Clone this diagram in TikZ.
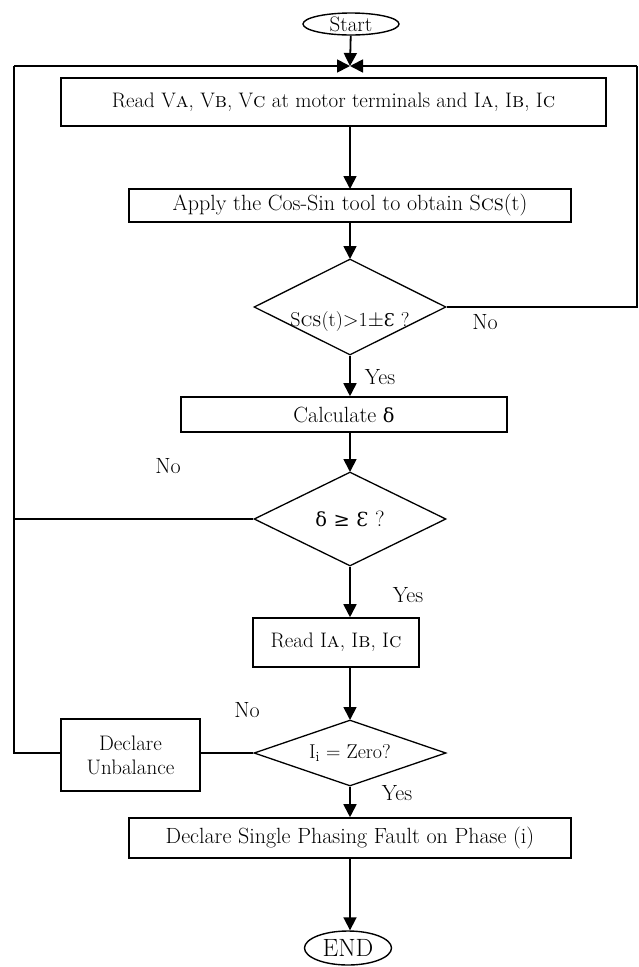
\documentclass[tikz,border=0pt]{standalone}
\usepackage{fontspec}
\usepackage{amsmath}
\usetikzlibrary{shapes.geometric,arrows.meta}
\newfontfamily\opene[Scale=0.88]{DejaVu Serif}
\newcommand{\OpE}{{\opene Ɛ}}
\newcommand{\dlt}{{\opene δ}}
\newcommand{\fs}[1]{\fontsize{#1}{#1}\selectfont}

\begin{document}
\begin{tikzpicture}[x=1pt,y=-1pt]
    \tikzset{%
      term/.style={ellipse, draw, line width=1.4pt, inner sep=0pt},
      box/.style={rectangle, draw, line width=1.6pt, inner sep=0pt,
        align=center},
      test/.style={diamond, draw, line width=1.3pt, inner sep=0pt, aspect=2},
      txt/.style={inner sep=0pt},
      flow/.style={line width=1.8pt, -{Triangle[length=13pt,width=13pt]}},
      back/.style={line width=1.6pt},
      every node/.style={font=\fs{22}},
    }
    \useasboundingbox (0,0) rectangle (638,967);

    % start and first reading
    \node[term, font=\fs{21}, minimum width=96pt, minimum height=22pt] (start) at (351,24) {Start};
    \coordinate (merge) at (350,66);
    \coordinate (TL) at (14,66);
    \coordinate (TR) at (637,66);
    \draw [flow] (start) -- (merge);
    \node[box, font=\fs{21}, minimum width=545pt, minimum height=48pt] (readv) at (333.5,102)
      {Read V\textsc{a}, V\textsc{b}, V\textsc{c} at motor terminals and I\textsc{a}, I\textsc{b}, I\textsc{c}};
    \draw [flow] (readv.south -| merge) -- (350,189);

    \node[box, minimum width=442pt, minimum height=33pt] (apply) at (350,205.5)
      {Apply the Cos-Sin tool to obtain S\textsc{cs}(t)};
    \draw [flow] (apply) -- (350,259);

    % first test
    \node[test, minimum width=192pt, minimum height=96pt] (testS) at (350,307) {};
    \node[txt, font=\fs{20}] (testSt) at (350,322) {S\textsc{cs}(t)$>$1$\pm$\OpE\ ?};
    \coordinate (R1) at (637,307);
    \draw [back] (testS.east) -- (R1) -- (TR);
    \draw [flow] (TR) -- (merge);
    \node[txt] (no1) at (485,322) {No};
    \node[txt] (yes1) at (380,377) {Yes};

    \node[box, minimum width=326pt, minimum height=35pt] (calc) at (344,414.5)
      {Calculate \dlt};
    \draw [flow] (testS.south) -- (calc.north -| testS.south);
    \draw [flow] (calc.south -| testS.south) -- (350,472);

    % second test
    \node[test, minimum width=192pt, minimum height=94pt] (testD) at (350,519)
      {\dlt\ {\opene ≥} \OpE\ ?};
    \coordinate (L2) at (14,519);
    \draw [back] (testD.west) -- (L2);
    \node[txt] (no2) at (168,466) {No};
    \node[txt] (yes2) at (408,595) {Yes};

    \node[box, font=\fs{21}, minimum width=166pt, minimum height=49pt] (readi) at (336,642.5)
      {Read I\textsc{a}, I\textsc{b}, I\textsc{c}};
    \draw [flow] (testD.south) -- (readi.north -| testD.south);
    \draw [flow] (readi.south -| testD.south) -- (350,720);

    % third test
    \node[test, font=\fs{20}, aspect=2.9, minimum width=192pt, minimum height=66pt] (testI) at (350,753)
      {I$_\mathrm{i}$ = Zero?};
    \node[box, font=\fontsize{21}{24}\selectfont, minimum width=139pt, minimum height=72pt] (unbal) at (130.5,755)
      {Declare\\Unbalance};
    \coordinate (L3) at (14,753);
    \draw [back] (testI.west) -- (unbal.east |- testI.west);
    \draw [back] (unbal.west |- L3) -- (L3) -- (TL);
    \draw [flow] (TL) -- (merge);
    \node[txt] (no3) at (247,710) {No};
    \node[txt] (yes3) at (397,793) {Yes};

    \node[box, minimum width=442pt, minimum height=40pt] (fault) at (350,838)
      {Declare Single Phasing Fault on Phase (i)};
    \draw [flow] (testI.south) -- (fault.north);

    \node[term, font=\fs{25}, minimum width=87pt, minimum height=34pt] (finish) at (348,948) {END};
    \draw [flow] (fault.south) -- (finish.north -| fault.south);
\end{tikzpicture}
\end{document}
